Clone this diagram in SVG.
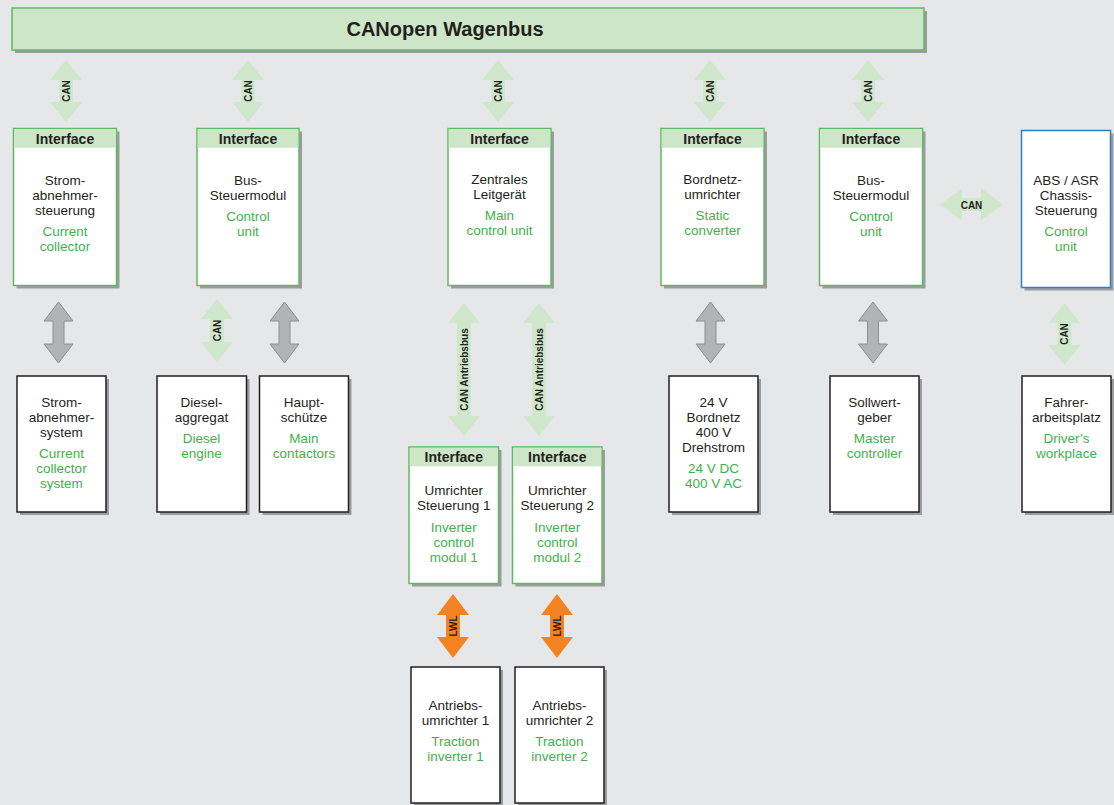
<svg xmlns="http://www.w3.org/2000/svg" width="1114" height="805" viewBox="0 0 1114 805">
<style>
.bg{fill:#e6e7e8}
.sh{fill:#9c9c9e}
.gn{fill:#ffffff;stroke:#5dba62;stroke-width:1.5}
.bl{fill:#ffffff;stroke:#231f20;stroke-width:1.5}
.bu{fill:#ffffff;stroke:#2b7fc6;stroke-width:1.5}
.hd{fill:#cde6c7}
.bar{fill:#cde6c7;stroke:#5dba62;stroke-width:1.5}
.ag{fill:#cfe8cb}
.ay{fill:#b2b3b5;stroke:#8d8e90;stroke-width:1}
.ao{fill:#f58220}
text{font-family:"Liberation Sans",Arial,sans-serif;text-anchor:middle}
.t{font-size:13.5px;fill:#231f20}
.g{font-size:13.5px;fill:#3fb14b}
.h{font-size:14px;font-weight:bold;fill:#231f20}
.l{font-size:10px;font-weight:bold;fill:#231f20}
.title{font-size:20px;font-weight:bold;fill:#231f20}
</style>
<rect class="bg" x="0" y="0" width="1114" height="805"/>

<g id="bus">
<rect class="sh" x="15" y="11" width="912" height="42"/>
<rect class="bar" x="12" y="8" width="912" height="42"/>
<text class="title" x="445" y="36">CANopen Wagenbus</text>
</g>

<g id="connectors">
<!-- top CAN arrows -->
<polygon class="ag" points="66,60 82,80 73,80 73,102 82,102 66,122 50,102 59,102 59,80 50,80"/>
<text class="l" transform="translate(69.5,91) rotate(-90)">CAN</text>
<polygon class="ag" points="248,60 264,80 255,80 255,102 264,102 248,122 232,102 241,102 241,80 232,80"/>
<text class="l" transform="translate(251.5,91) rotate(-90)">CAN</text>
<polygon class="ag" points="498,60 514,80 505,80 505,102 514,102 498,122 482,102 491,102 491,80 482,80"/>
<text class="l" transform="translate(501.5,91) rotate(-90)">CAN</text>
<polygon class="ag" points="710,60 726,80 717,80 717,102 726,102 710,122 694,102 703,102 703,80 694,80"/>
<text class="l" transform="translate(713.5,91) rotate(-90)">CAN</text>
<polygon class="ag" points="868,60 884,80 875,80 875,102 884,102 868,122 852,102 861,102 861,80 852,80"/>
<text class="l" transform="translate(871.5,91) rotate(-90)">CAN</text>

<!-- horizontal CAN -->
<polygon class="ag" points="940,204.5 962,188.5 962,198 981,198 981,188.5 1003,204.5 981,220.5 981,211 962,211 962,220.5"/>
<text class="l" x="971.5" y="208.5">CAN</text>

<!-- grey arrows -->
<polygon class="ay" points="58.5,302 73,321 64,321 64,344 73,344 58.5,363 44,344 53,344 53,321 44,321"/>
<polygon class="ay" points="284.5,302 299,321 290,321 290,344 299,344 284.5,363 270,344 279,344 279,321 270,321"/>
<polygon class="ay" points="710.5,302 725,321 716,321 716,344 725,344 710.5,363 696,344 705,344 705,321 696,321"/>
<polygon class="ay" points="873,302 887.5,321 878.5,321 878.5,344 887.5,344 873,363 858.5,344 867.5,344 867.5,321 858.5,321"/>

<!-- lower CAN arrows -->
<polygon class="ag" points="217,299 233,319 224,319 224,342 233,342 217,362 201,342 210,342 210,319 201,319"/>
<text class="l" transform="translate(220.5,330.5) rotate(-90)">CAN</text>
<polygon class="ag" points="1064.5,303 1080.5,323 1071.5,323 1071.5,345 1080.5,345 1064.5,365 1048.5,345 1057.5,345 1057.5,323 1048.5,323"/>
<text class="l" transform="translate(1068,334) rotate(-90)">CAN</text>

<!-- CAN Antriebsbus -->
<polygon class="ag" points="464,303 480,323 471,323 471,416 480,416 464,436 448,416 457,416 457,323 448,323"/>
<text class="l" transform="translate(467.5,369.5) rotate(-90)">CAN Antriebsbus</text>
<polygon class="ag" points="539,303 555,323 546,323 546,416 555,416 539,436 523,416 532,416 532,323 523,323"/>
<text class="l" transform="translate(542.5,369.5) rotate(-90)">CAN Antriebsbus</text>

<!-- LWL -->
<polygon class="ao" points="453,594 469,615 460,615 460,637 469,637 453,658 437,637 446,637 446,615 437,615"/>
<text class="l" transform="translate(456.5,626) rotate(-90)">LWL</text>
<polygon class="ao" points="557,594 573,615 564,615 564,637 573,637 557,658 541,637 550,637 550,615 541,615"/>
<text class="l" transform="translate(560.5,626) rotate(-90)">LWL</text>
</g>

<!-- top interface nodes -->
<g id="n_strom_st">
<rect class="sh" x="16.5" y="131.5" width="103" height="157"/>
<rect class="gn" x="13.5" y="128.5" width="103" height="157"/>
<rect class="hd" x="14.25" y="129.25" width="101.5" height="18.5"/>
<text class="h" x="65" y="144">Interface</text>
<text class="t" x="65" y="185">Strom-</text>
<text class="t" x="65" y="200">abnehmer-</text>
<text class="t" x="65" y="215">steuerung</text>
<text class="g" x="65" y="235.5">Current</text>
<text class="g" x="65" y="250.5">collector</text>
</g>

<g id="n_bus1">
<rect class="sh" x="200" y="131.5" width="102" height="157"/>
<rect class="gn" x="197" y="128.5" width="102" height="157"/>
<rect class="hd" x="197.75" y="129.25" width="100.5" height="18.5"/>
<text class="h" x="248" y="144">Interface</text>
<text class="t" x="248" y="185">Bus-</text>
<text class="t" x="248" y="200">Steuermodul</text>
<text class="g" x="248" y="221">Control</text>
<text class="g" x="248" y="236">unit</text>
</g>

<g id="n_zentral">
<rect class="sh" x="451" y="131.5" width="103" height="157"/>
<rect class="gn" x="448" y="128.5" width="103" height="157"/>
<rect class="hd" x="448.75" y="129.25" width="101.5" height="18.5"/>
<text class="h" x="499.5" y="144">Interface</text>
<text class="t" x="499.5" y="184">Zentrales</text>
<text class="t" x="499.5" y="199">Leitgerät</text>
<text class="g" x="499.5" y="220">Main</text>
<text class="g" x="499.5" y="235">control unit</text>
</g>

<g id="n_bordnetz_u">
<rect class="sh" x="664" y="131.5" width="103" height="157"/>
<rect class="gn" x="661" y="128.5" width="103" height="157"/>
<rect class="hd" x="661.75" y="129.25" width="101.5" height="18.5"/>
<text class="h" x="712.5" y="144">Interface</text>
<text class="t" x="712.5" y="184">Bordnetz-</text>
<text class="t" x="712.5" y="199">umrichter</text>
<text class="g" x="712.5" y="220">Static</text>
<text class="g" x="712.5" y="235">converter</text>
</g>

<g id="n_bus2">
<rect class="sh" x="822.5" y="131.5" width="103" height="157"/>
<rect class="gn" x="819.5" y="128.5" width="103" height="157"/>
<rect class="hd" x="820.25" y="129.25" width="101.5" height="18.5"/>
<text class="h" x="871" y="144">Interface</text>
<text class="t" x="871" y="185">Bus-</text>
<text class="t" x="871" y="200">Steuermodul</text>
<text class="g" x="871" y="221">Control</text>
<text class="g" x="871" y="236">unit</text>
</g>

<g id="n_abs">
<rect class="sh" x="1024.5" y="133.5" width="89" height="157"/>
<rect class="bu" x="1021.5" y="130.5" width="89" height="157"/>
<text class="t" x="1066" y="185">ABS / ASR</text>
<text class="t" x="1066" y="200">Chassis-</text>
<text class="t" x="1066" y="215">Steuerung</text>
<text class="g" x="1066" y="235.5">Control</text>
<text class="g" x="1066" y="250.5">unit</text>
</g>

<!-- bottom row -->
<g id="n_strom_sys">
<rect class="sh" x="20" y="379" width="89" height="136"/>
<rect class="bl" x="17" y="376" width="89" height="136"/>
<text class="t" x="61.5" y="407">Strom-</text>
<text class="t" x="61.5" y="422">abnehmer-</text>
<text class="t" x="61.5" y="437">system</text>
<text class="g" x="61.5" y="458">Current</text>
<text class="g" x="61.5" y="473">collector</text>
<text class="g" x="61.5" y="488">system</text>
</g>

<g id="n_diesel">
<rect class="sh" x="160" y="379" width="89.5" height="136"/>
<rect class="bl" x="157" y="376" width="89.5" height="136"/>
<text class="t" x="201.5" y="407">Diesel-</text>
<text class="t" x="201.5" y="422">aggregat</text>
<text class="g" x="201.5" y="443">Diesel</text>
<text class="g" x="201.5" y="458">engine</text>
</g>

<g id="n_haupt">
<rect class="sh" x="262.5" y="379" width="89" height="136"/>
<rect class="bl" x="259.5" y="376" width="89" height="136"/>
<text class="t" x="304" y="407">Haupt-</text>
<text class="t" x="304" y="422">schütze</text>
<text class="g" x="304" y="443">Main</text>
<text class="g" x="304" y="458">contactors</text>
</g>

<g id="n_bordnetz">
<rect class="sh" x="672" y="379" width="89" height="136"/>
<rect class="bl" x="669" y="376" width="89" height="136"/>
<text class="t" x="713.5" y="407">24 V</text>
<text class="t" x="713.5" y="422">Bordnetz</text>
<text class="t" x="713.5" y="437">400 V</text>
<text class="t" x="713.5" y="452">Drehstrom</text>
<text class="g" x="713.5" y="473">24 V DC</text>
<text class="g" x="713.5" y="488">400 V AC</text>
</g>

<g id="n_sollwert">
<rect class="sh" x="833" y="379" width="89" height="136"/>
<rect class="bl" x="830" y="376" width="89" height="136"/>
<text class="t" x="874.5" y="407">Sollwert-</text>
<text class="t" x="874.5" y="422">geber</text>
<text class="g" x="874.5" y="443">Master</text>
<text class="g" x="874.5" y="458">controller</text>
</g>

<g id="n_fahrer">
<rect class="sh" x="1025" y="379" width="89" height="136"/>
<rect class="bl" x="1022" y="376" width="89" height="136"/>
<text class="t" x="1066.5" y="407">Fahrer-</text>
<text class="t" x="1066.5" y="422">arbeitsplatz</text>
<text class="g" x="1066.5" y="443">Driver’s</text>
<text class="g" x="1066.5" y="458">workplace</text>
</g>

<!-- middle interface nodes -->
<g id="n_umr1">
<rect class="sh" x="412" y="450" width="89.5" height="136.5"/>
<rect class="gn" x="409" y="447" width="89.5" height="136.5"/>
<rect class="hd" x="409.75" y="447.75" width="88" height="18.5"/>
<text class="h" x="453.75" y="462">Interface</text>
<text class="t" x="453.75" y="495">Umrichter</text>
<text class="t" x="453.75" y="510">Steuerung 1</text>
<text class="g" x="453.75" y="531.5">Inverter</text>
<text class="g" x="453.75" y="546.5">control</text>
<text class="g" x="453.75" y="561.5">modul 1</text>
</g>

<g id="n_umr2">
<rect class="sh" x="515.5" y="450" width="89.5" height="136.5"/>
<rect class="gn" x="512.5" y="447" width="89.5" height="136.5"/>
<rect class="hd" x="513.25" y="447.75" width="88" height="18.5"/>
<text class="h" x="557.25" y="462">Interface</text>
<text class="t" x="557.25" y="495">Umrichter</text>
<text class="t" x="557.25" y="510">Steuerung 2</text>
<text class="g" x="557.25" y="531.5">Inverter</text>
<text class="g" x="557.25" y="546.5">control</text>
<text class="g" x="557.25" y="561.5">modul 2</text>
</g>

<!-- traction inverters -->
<g id="n_trac1">
<rect class="sh" x="414" y="670" width="89" height="136"/>
<rect class="bl" x="411" y="667" width="89" height="136"/>
<text class="t" x="455.5" y="710">Antriebs-</text>
<text class="t" x="455.5" y="725">umrichter 1</text>
<text class="g" x="455.5" y="746">Traction</text>
<text class="g" x="455.5" y="761">inverter 1</text>
</g>

<g id="n_trac2">
<rect class="sh" x="518" y="670" width="89" height="136"/>
<rect class="bl" x="515" y="667" width="89" height="136"/>
<text class="t" x="559.5" y="710">Antriebs-</text>
<text class="t" x="559.5" y="725">umrichter 2</text>
<text class="g" x="559.5" y="746">Traction</text>
<text class="g" x="559.5" y="761">inverter 2</text>
</g>
</svg>
